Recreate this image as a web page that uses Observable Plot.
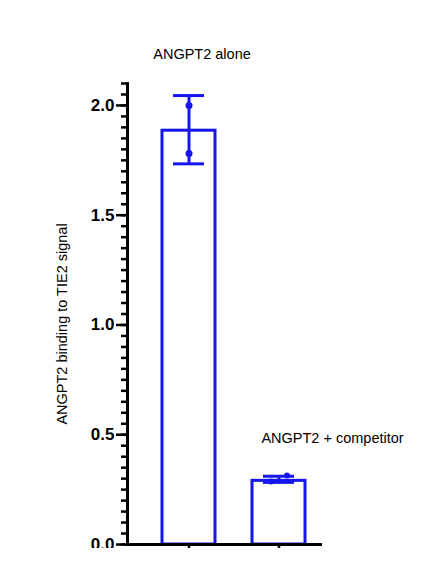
<!DOCTYPE html>
<html>
<head>
<meta charset="utf-8">
<script src="https://cdn.jsdelivr.net/npm/d3@7"></script>
<script src="https://cdn.jsdelivr.net/npm/@observablehq/plot@0.6"></script>
<style>
  html, body { margin: 0; padding: 0; background: white; }
</style>
</head>
<body>
<div id="chart"></div>
<script>
const groups = ["ANGPT2 alone", "ANGPT2 + competitor"];
const means = [1.885, 0.29];
const errLow = [1.734, 0.283];
const errHigh = [2.045, 0.311];
const repsAlone = [2.0, 1.781];
const repsCompetitor = [0.287, 0.314];
const yTicks = [0, 0.5, 1.0, 1.5, 2.0];
const yMinorTicks = d3.range(0, 2.1001, 0.05);
const yLabel = "ANGPT2 binding to TIE2 signal";

const blue = "#1515f0";
const rows = groups.map((g, i) => ({group: g, mean: means[i], lo: errLow[i], hi: errHigh[i]}));
const alonePts = repsAlone.map(v => ({group: groups[0], value: v}));
const compPts = repsCompetitor.map(v => ({group: groups[1], value: v}));

const chart = Plot.plot({
  width: 436,
  height: 548,
  marginLeft: 127,
  marginRight: 116,
  marginTop: 83,
  marginBottom: 4,
  style: {fontFamily: "'Liberation Sans', Arial, sans-serif", overflow: "hidden", background: "white", color: "black"},
  x: {domain: groups, paddingInner: 0.407, paddingOuter: 0.269, align: 0.71},
  y: {domain: [0, 2.1]},
  marks: [
    Plot.barY(rows, {x: "group", y: "mean", fill: "white", stroke: blue, strokeWidth: 3}),
    Plot.ruleX(rows, {x: "group", y1: "lo", y2: "hi", stroke: blue, strokeWidth: 3}),
    Plot.tickY(rows, {x: "group", y: "hi", stroke: blue, strokeWidth: 3, insetLeft: 11, insetRight: 11}),
    Plot.tickY(rows, {x: "group", y: "lo", stroke: blue, strokeWidth: 3, insetLeft: 11, insetRight: 11}),
    Plot.dot(alonePts, {x: "group", y: "value", r: 3.5, fill: blue, stroke: null}),
    Plot.dot(compPts.slice(0, 1), {x: "group", y: "value", r: 3, fill: blue, stroke: null, dx: -8}),
    Plot.dot(compPts.slice(1, 2), {x: "group", y: "value", r: 3, fill: blue, stroke: null, dx: 8}),
    Plot.axisY({ticks: yMinorTicks, tickSize: 6, tickFormat: () => "", strokeWidth: 2.5, label: null}),
    Plot.axisY({ticks: yTicks, tickSize: 11, tickPadding: 2, strokeWidth: 2.5, tickFormat: d3.format(".1f"),
                fontSize: 17, fontWeight: "bold", label: null}),
    Plot.axisX({tickSize: 5, tickFormat: () => "", strokeWidth: 2.5, label: null}),
    Plot.frame({anchor: "left", strokeWidth: 3}),
    Plot.frame({anchor: "bottom", strokeWidth: 3}),
    Plot.text(rows.slice(0, 1), {x: "group", y: "hi", text: "group", dx: 13, dy: -37, lineAnchor: "bottom", fontSize: 14.5, fill: "black"}),
    Plot.text(rows.slice(1, 2), {x: "group", y: "hi", text: "group", dx: 53.5, dy: -33, lineAnchor: "bottom", fontSize: 14.5, fill: "black"}),
    Plot.text([yLabel], {frameAnchor: "left", textAnchor: "middle", rotate: -90, dx: -65.6, dy: 10, fontSize: 14.5, fill: "black"})
  ]
});
document.getElementById("chart").appendChild(chart);
</script>
</body>
</html>
